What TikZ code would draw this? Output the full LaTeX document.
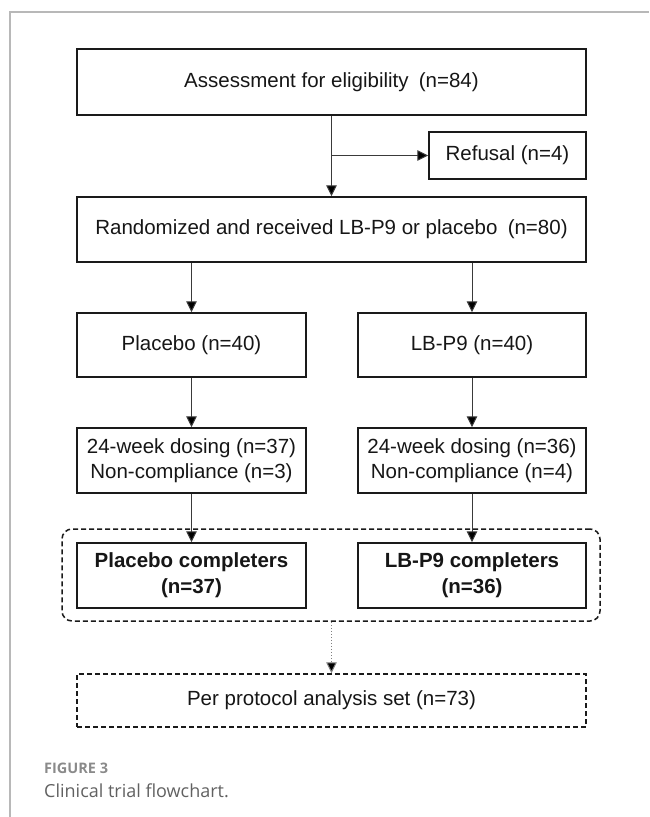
\documentclass[tikz,border=0pt]{standalone}
\usepackage{fontspec}
\setmainfont{Liberation Sans}
\newfontfamily\capfont{Open Sans}
\usetikzlibrary{arrows.meta}
\definecolor{framegray}{HTML}{B8B8B8}
\definecolor{boxline}{HTML}{1A1A1A}
\definecolor{connline}{HTML}{3A3A3A}
\definecolor{txt}{HTML}{161616}
\begin{document}
\begin{tikzpicture}[x=1pt,y=-1pt,
  box/.style={draw=boxline, line width=1.5pt, rectangle, align=center,
    font=\fontsize{20.5}{25}\selectfont, inner sep=0pt, text=txt},
  boldbox/.style={box, font=\fontsize{20.5}{26}\selectfont\bfseries},
  dbox/.style={box, dashed, dash pattern=on 5pt off 3pt},
  arr/.style={draw=connline, line width=1pt, -{Triangle[length=11pt,width=10.5pt,fill=black]}},
  darr/.style={draw=gray, line width=1pt, dotted, -{Triangle[length=11pt,width=10.5pt,fill=black]}},
  captitle/.style={font=\capfont\fontsize{14.5}{16}\selectfont\bfseries, text=black!46, anchor=base west, inner sep=0pt},
  captext/.style={font=\capfont\fontsize{18}{20}\selectfont, text=black!62, anchor=base west, inner sep=0pt},
]
\useasboundingbox (0,0) rectangle (649,817);
% page frame
\draw[framegray, line width=1.5pt] (10,817) -- (10,12) -- (649,12);

% boxes
\node[box, minimum width=509pt, minimum height=66pt] (elig) at (331.5,82) {Assessment for eligibility\hspace{0.5em}(n=84)};
\node[box, minimum width=157pt, minimum height=47pt] (refusal) at (507.5,155.5) {Refusal (n=4)};
\node[box, minimum width=509pt, minimum height=65pt] (rand) at (331.5,229.5) {Randomized and received LB-P9 or placebo\hspace{0.5em}(n=80)};
\node[box, minimum width=229pt, minimum height=64pt] (plc) at (191.5,345) {Placebo (n=40)};
\node[box, minimum width=228pt, minimum height=64pt] (lbp) at (472,345) {LB-P9 (n=40)};
\node[box, minimum width=229pt, minimum height=65pt] (dplc) at (191.5,460.5) {24-week dosing (n=37)\\Non-compliance (n=3)};
\node[box, minimum width=228pt, minimum height=65pt] (dlbp) at (472,460.5) {24-week dosing (n=36)\\Non-compliance (n=4)};
\node[dbox, rounded corners=10pt, minimum width=538pt, minimum height=92pt] (group) at (331,575) {};
\node[boldbox, minimum width=229pt, minimum height=65pt] (cplc) at (191.5,575.5) {Placebo completers\\(n=37)};
\node[boldbox, minimum width=228pt, minimum height=65pt] (clbp) at (472,575.5) {LB-P9 completers\\(n=36)};
\node[dbox, minimum width=509pt, minimum height=53pt] (pp) at (331.5,700.5) {Per protocol analysis set (n=73)};

% connectors
\coordinate (branch) at (elig.south |- refusal.west);
\draw[arr] (elig.south) -- (rand.north);
\draw[arr] (branch) -- (refusal.west);
\draw[arr] (rand.south -| plc.north) -- (plc.north);
\draw[arr] (rand.south -| lbp.north) -- (lbp.north);
\draw[arr] (plc.south) -- (dplc.north);
\draw[arr] (lbp.south) -- (dlbp.north);
\draw[arr] (dplc.south) -- (cplc.north);
\draw[arr] (dlbp.south) -- (clbp.north);
\draw[darr] (group.south -| pp.north) -- (pp.north);

% caption
\node[captitle] (figlab) at (44,773) {FIGURE 3};
\node[captext] (figcap) at (44,797) {Clinical trial flowchart.};
\end{tikzpicture}
\end{document}
